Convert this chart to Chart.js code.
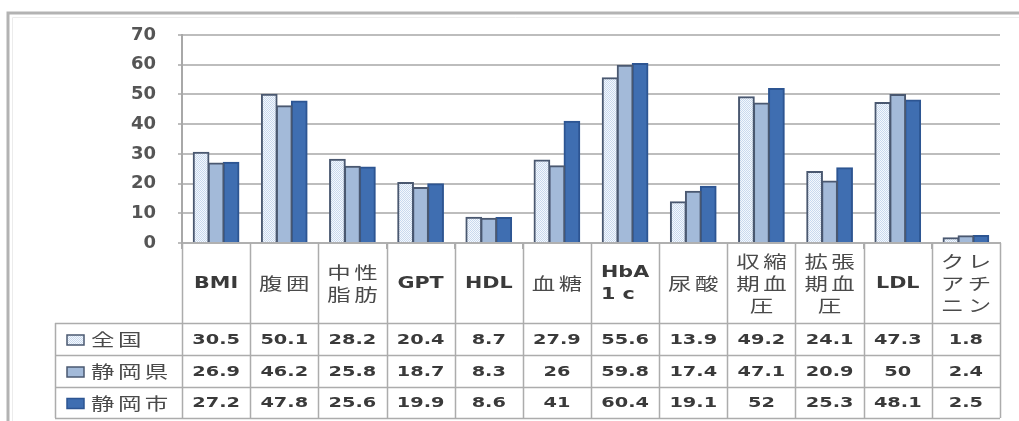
<!DOCTYPE html>
<html>
<head>
<meta charset="utf-8">
<script src="https://cdn.jsdelivr.net/npm/chart.js@4"></script>
<style>
	body { margin: 0; background: #fff; }
	canvas { display: block; }
</style>
</head>
<body>
<canvas id="kenshinChart" width="1019" height="421"></canvas>
<script>
// 健診項目（表の見出しは行ごとに分けて書く）
const categories = ['BMI', '腹囲', '中性脂肪', 'GPT', 'HDL', '血糖', 'HbA1c', '尿酸', '収縮期血圧', '拡張期血圧', 'LDL', 'クレアチニン'];
const headerLines = [['BMI'], ['腹囲'], ['中性', '脂肪'], ['GPT'], ['HDL'], ['血糖'], ['HbA', '1 c'], ['尿酸'], ['収縮', '期血', '圧'], ['拡張', '期血', '圧'], ['LDL'], ['クレ', 'アチ', 'ニン']];

const seriesNames = ['全国', '静岡県', '静岡市'];
const zenkoku = [30.5, 50.1, 28.2, 20.4, 8.7, 27.9, 55.6, 13.9, 49.2, 24.1, 47.3, 1.8];
const shizuokaKen = [26.9, 46.2, 25.8, 18.7, 8.3, 26, 59.8, 17.4, 47.1, 20.9, 50, 2.4];
const shizuokaShi = [27.2, 47.8, 25.6, 19.9, 8.6, 41, 60.4, 19.1, 52, 25.3, 48.1, 2.5];

const yMin = 0;
const yMax = 70;
const yStep = 10;

// 全国の棒は細かい網目模様
function makeDotPattern() {
	const c = document.createElement('canvas');
	c.width = 2;
	c.height = 2;
	const g = c.getContext('2d');
	g.fillStyle = '#f4f8fd';
	g.fillRect(0, 0, 2, 2);
	g.fillStyle = '#c9d9ee';
	g.fillRect(0, 0, 1, 1);
	g.fillRect(1, 1, 1, 1);
	return g.createPattern(c, 'repeat');
}

const dotPattern = makeDotPattern();
const fills = [dotPattern, '#a3bad9', '#3f6eb1'];
const borders = ['#4a5870', '#4a5870', '#2d5592'];

const STRETCH = 1.38;
const CJK_SPACING = 2.5;
const TEXT_COLOR = '#3a3a3a';
const CJK_COLOR = '#4a4a4a';
const LINE_COLOR = '#acacac';

function isLatin(s) {
	return /^[\x00-\x7f]*$/.test(s);
}

function drawText(ctx, text, x, y, align, latinSize) {
	ctx.save();
	align = align || 'center';
	let shift = 0;
	if (isLatin(text)) {
		ctx.font = 'bold ' + (latinSize || 14) + 'px "DejaVu Sans"';
		ctx.fillStyle = TEXT_COLOR;
	} else {
		ctx.font = '17px "Noto Sans CJK JP"';
		ctx.fillStyle = CJK_COLOR;
		ctx.letterSpacing = CJK_SPACING + 'px';
		// 字間の末尾ぶんを戻して中央をそろえる
		if (align === 'center') shift = CJK_SPACING / 2 * STRETCH;
	}
	ctx.textAlign = align;
	ctx.textBaseline = 'middle';
	ctx.translate(x + shift, y);
	ctx.scale(STRETCH, 1);
	ctx.fillText(text, 0, 0);
	ctx.restore();
}

// 外枠とデータテーブル
const dataTable = {
	id: 'dataTable',
	beforeDraw(chart) {
		const ctx = chart.ctx;
		ctx.save();
		ctx.strokeStyle = '#b3b3b3';
		ctx.lineWidth = 3;
		ctx.beginPath();
		ctx.moveTo(1019, 13);
		ctx.lineTo(8, 13);
		ctx.lineTo(8, 421);
		ctx.stroke();
		ctx.strokeStyle = '#ececec';
		ctx.lineWidth = 1;
		ctx.beginPath();
		ctx.moveTo(1019, 17.5);
		ctx.lineTo(12.5, 17.5);
		ctx.lineTo(12.5, 421);
		ctx.stroke();
		ctx.restore();
	},
	afterDraw(chart) {
		const ctx = chart.ctx;
		const x = chart.scales.x;
		const area = chart.chartArea;
		const n = categories.length;
		const colW = (area.right - area.left) / n;
		const top = area.bottom;
		const headerBottom = 323;
		const rowLines = [323, 355, 387, 418];
		const legendLeft = 55;

		ctx.save();
		ctx.strokeStyle = LINE_COLOR;
		ctx.lineWidth = 1.5;
		ctx.beginPath();
		for (let i = 0; i <= n; i++) {
			const xx = Math.round(x.getPixelForValue(i) - colW / 2) + 0.5;
			ctx.moveTo(xx, top);
			ctx.lineTo(xx, rowLines[rowLines.length - 1]);
		}
		rowLines.forEach(yy => {
			ctx.moveTo(legendLeft, yy + 0.5);
			ctx.lineTo(area.right, yy + 0.5);
		});
		ctx.moveTo(legendLeft + 0.5, headerBottom);
		ctx.lineTo(legendLeft + 0.5, rowLines[rowLines.length - 1]);
		ctx.stroke();
		ctx.restore();

		// 見出し行（英字だけの見出しは左揃えのかたまり）
		const lineH = 22;
		headerLines.forEach((lines, i) => {
			const cx = x.getPixelForValue(i);
			const cy = (top + headerBottom) / 2 + 1;
			const y0 = cy - (lines.length - 1) * lineH / 2;
			if (lines.every(isLatin) && lines.length > 1) {
				ctx.save();
				ctx.font = 'bold 15px "DejaVu Sans"';
				const w = Math.max(...lines.map(t => ctx.measureText(t).width)) * STRETCH;
				ctx.restore();
				lines.forEach((t, j) => drawText(ctx, t, cx - w / 2, y0 + j * lineH, 'left', 15));
			} else {
				lines.forEach((t, j) => drawText(ctx, t, cx, y0 + j * lineH, 'center', 15));
			}
		});

		// 凡例とデータ
		const series = [zenkoku, shizuokaKen, shizuokaShi];
		series.forEach((vals, r) => {
			const cy = (rowLines[r] + rowLines[r + 1]) / 2 + 1;
			ctx.save();
			ctx.fillStyle = fills[r];
			ctx.fillRect(67, cy - 5, 17, 10);
			ctx.strokeStyle = borders[r];
			ctx.lineWidth = 1.5;
			ctx.strokeRect(67, cy - 5, 17, 10);
			ctx.restore();
			drawText(ctx, seriesNames[r], 91, cy, 'left');
			vals.forEach((v, i) => {
				drawText(ctx, String(v), x.getPixelForValue(i), cy);
			});
		});
	}
};

new Chart(document.getElementById('kenshinChart'), {
	type: 'bar',
	data: {
		labels: categories,
		datasets: seriesNames.map((name, k) => ({
			label: name,
			data: [zenkoku, shizuokaKen, shizuokaShi][k],
			backgroundColor: fills[k],
			borderColor: borders[k],
			borderWidth: 2,
			inflateAmount: 0.5,
			categoryPercentage: 0.66,
			// 隣の棒と枠線を重ねて隙間を消す
			barPercentage: 1.05
		}))
	},
	options: {
		responsive: false,
		animation: false,
		devicePixelRatio: 1,
		layout: {
			padding: { left: 0, right: 19, top: 35, bottom: 0 }
		},
		plugins: {
			legend: { display: false },
			title: { display: false },
			tooltip: { enabled: false }
		},
		scales: {
			x: {
				ticks: { display: false },
				grid: {
					drawOnChartArea: false,
					tickLength: 6,
					color: LINE_COLOR
				},
				border: { color: '#b0b0b0', width: 2 },
				afterFit(scale) {
					scale.height = 178;
				}
			},
			y: {
				min: yMin,
				max: yMax,
				ticks: {
					stepSize: yStep,
					padding: 22,
					color: '#555',
					font: { family: '"DejaVu Sans"', size: 18, weight: 'bold' }
				},
				grid: {
					color: '#bdbdbd',
					lineWidth: 2,
					tickLength: 4
				},
				border: { color: '#a8a8a8', width: 2 },
				afterFit(scale) {
					scale.width = 182;
				}
			}
		}
	},
	plugins: [dataTable]
});
</script>
</body>
</html>
